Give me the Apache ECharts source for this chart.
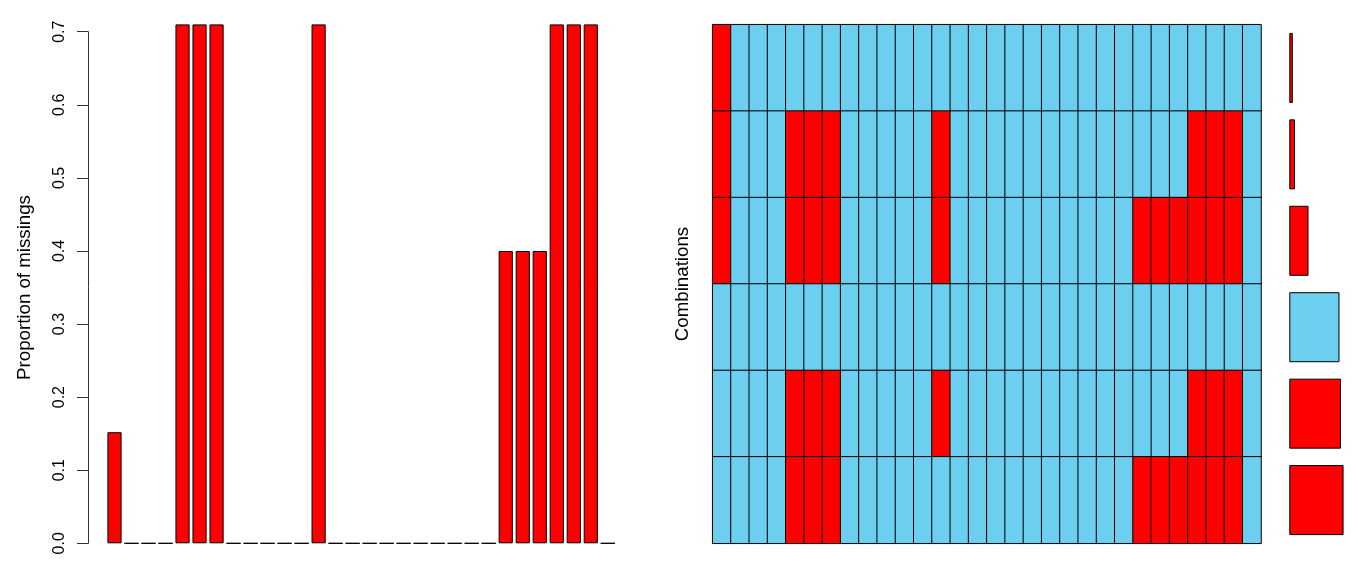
<!DOCTYPE html>
<html>
<head>
<meta charset="utf-8">
<script src="https://cdn.jsdelivr.net/npm/echarts@6/dist/echarts.min.js"></script>
<style>
html,body{margin:0;padding:0;background:#ffffff;}
#chart{width:1358px;height:563px;}
</style>
</head>
<body>
<div id="chart"></div>
<script>
// ---------- data ----------
const variables = ['V1','V2','V3','V4','V5','V6','V7','V8','V9','V10',
  'V11','V12','V13','V14','V15','V16','V17','V18','V19','V20',
  'V21','V22','V23','V24','V25','V26','V27','V28','V29','V30'];

const proportionMissing = [0.152, 0, 0, 0, 0.71, 0.71, 0.71, 0, 0, 0,
  0, 0, 0.71, 0, 0, 0, 0, 0, 0, 0,
  0, 0, 0, 0.4, 0.4, 0.4, 0.71, 0.71, 0.71, 0];

const yTickValues = [0, 0.1, 0.2, 0.3, 0.4, 0.5, 0.6, 0.7];

// combination patterns, top row first (1 = missing, 0 = observed)
const combinationNames = ['C1','C2','C3','C4','C5','C6'];
const combination1 = [1,0,0,0,0,0,0,0,0,0, 0,0,0,0,0,0,0,0,0,0, 0,0,0,0,0,0,0,0,0,0];
const combination2 = [1,0,0,0,1,1,1,0,0,0, 0,0,1,0,0,0,0,0,0,0, 0,0,0,0,0,0,1,1,1,0];
const combination3 = [1,0,0,0,1,1,1,0,0,0, 0,0,1,0,0,0,0,0,0,0, 0,0,0,1,1,1,1,1,1,0];
const combination4 = [0,0,0,0,0,0,0,0,0,0, 0,0,0,0,0,0,0,0,0,0, 0,0,0,0,0,0,0,0,0,0];
const combination5 = [0,0,0,0,1,1,1,0,0,0, 0,0,1,0,0,0,0,0,0,0, 0,0,0,0,0,0,1,1,1,0];
const combination6 = [0,0,0,0,1,1,1,0,0,0, 0,0,0,0,0,0,0,0,0,0, 0,0,0,1,1,1,1,1,1,0];
const combinations = [combination1, combination2, combination3, combination4, combination5, combination6];

// relative frequency of each combination (top row first)
const combinationFrequency = [0.019, 0.031, 0.104, 0.272, 0.280, 0.294];

// ---------- styling ----------
const RED = '#ff0000';
const BLUE = '#6dcff0';
const FONT = 'Liberation Sans, Arial, Helvetica, sans-serif';

const heatData = [];
combinations.forEach((row, r) => {
  row.forEach((v, c) => heatData.push([c, r, v]));
});

const freqData = combinationFrequency.map((f, i) => {
  const complete = combinations[i].every(v => v === 0);
  return { value: f, itemStyle: { color: complete ? BLUE : RED } };
});

const chart = echarts.init(document.getElementById('chart'), null, { renderer: 'canvas' });

const option = {
  backgroundColor: '#ffffff',
  animation: false,
  textStyle: { fontFamily: FONT },
  grid: [
    { left: 106, top: 31.7, width: 510.3, height: 511.6 },
    { left: 712.7, top: 24.7, width: 548.3, height: 518.6 },
    { left: 1289.3, top: 24.7, width: 60, height: 518.6 }
  ],
  xAxis: [
    { gridIndex: 0, type: 'category', data: variables, boundaryGap: true,
      axisLine: { show: false }, axisTick: { show: false }, axisLabel: { show: false }, splitLine: { show: false } },
    { gridIndex: 1, type: 'category', data: variables, boundaryGap: true,
      axisLine: { show: false }, axisTick: { show: false }, axisLabel: { show: false }, splitLine: { show: false } },
    { gridIndex: 2, type: 'value', min: 0, max: 0.325,
      axisLine: { show: false }, axisTick: { show: false }, axisLabel: { show: false }, splitLine: { show: false } }
  ],
  yAxis: [
    { gridIndex: 0, type: 'value', min: 0, max: 0.7, interval: 0.1, offset: 18,
      name: 'Proportion of missings', nameLocation: 'middle', nameRotate: 90, nameGap: 54,
      nameTextStyle: { fontSize: 18.7, color: '#000', fontFamily: FONT },
      axisLine: { show: true, lineStyle: { color: '#333', width: 1 } },
      axisTick: { show: true, length: 11, lineStyle: { color: '#333', width: 1 } },
      axisLabel: { show: true, rotate: 90, margin: 20, fontSize: 16, color: '#000', fontFamily: FONT,
        formatter: v => yTickValues.includes(Math.round(v * 10) / 10) ? v.toFixed(1) : '' },
      splitLine: { show: false } },
    { gridIndex: 1, type: 'category', data: combinationNames, inverse: true,
      name: 'Combinations', nameLocation: 'middle', nameRotate: 90, nameGap: 20,
      nameTextStyle: { fontSize: 18.7, color: '#000', fontFamily: FONT },
      axisLine: { show: false }, axisTick: { show: false }, axisLabel: { show: false }, splitLine: { show: false } },
    { gridIndex: 2, type: 'category', data: combinationNames, inverse: true,
      axisLine: { show: false }, axisTick: { show: false }, axisLabel: { show: false }, splitLine: { show: false } }
  ],
  visualMap: {
    show: false, type: 'piecewise', seriesIndex: 1, dimension: 2,
    pieces: [ { value: 0, color: BLUE }, { value: 1, color: RED } ]
  },
  series: [
    { type: 'bar', xAxisIndex: 0, yAxisIndex: 0, data: proportionMissing,
      barCategoryGap: '16.7%', clip: false,
      itemStyle: { color: RED, borderColor: '#000', borderWidth: 1 } },
    { type: 'heatmap', xAxisIndex: 1, yAxisIndex: 1, data: heatData,
      itemStyle: { borderColor: '#000', borderWidth: 1 },
      emphasis: { disabled: true } },
    { type: 'bar', xAxisIndex: 2, yAxisIndex: 2, data: freqData,
      barWidth: '81%',
      itemStyle: { borderColor: '#000', borderWidth: 1 } }
  ]
};

chart.setOption(option);
</script>
</body>
</html>
